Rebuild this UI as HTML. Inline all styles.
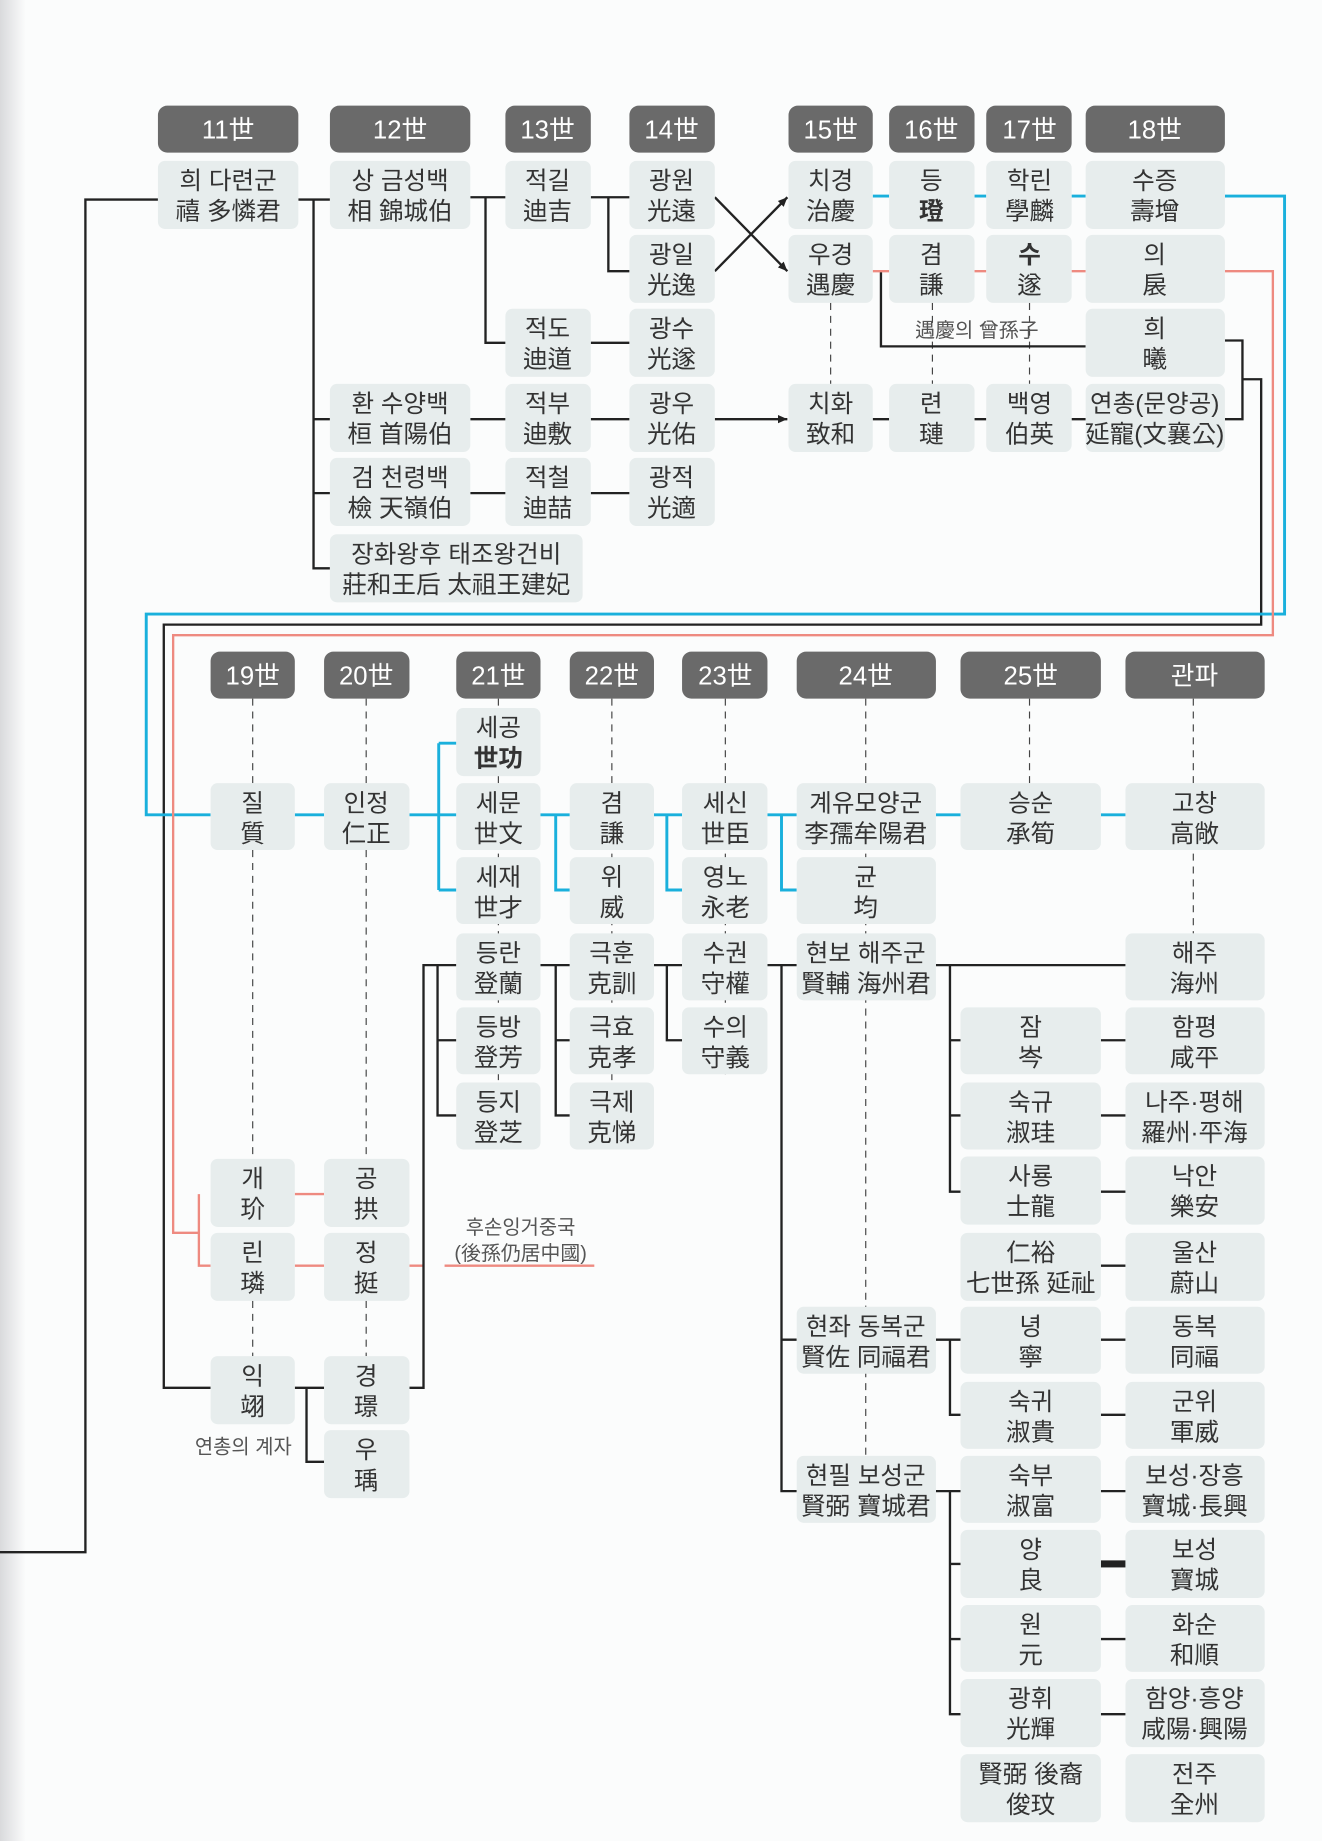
<!DOCTYPE html>
<html><head><meta charset="utf-8"><style>
html,body{margin:0;padding:0;background:#fbfcfc;}
svg{display:block}
.b{fill:#e7eded}
.h{fill:#6a6a6a}
text{font-family:"Liberation Sans","Noto Sans CJK KR","Noto Sans CJK TC",sans-serif;font-size:21px;fill:#333;text-anchor:middle}
.ht{fill:#fff;font-size:22px}
.k{stroke:#222;stroke-width:2;fill:none}
.c{stroke:#1ab0dc;stroke-width:2.5;fill:none}
.r{stroke:#ee8a80;stroke-width:2;fill:none}
.d{stroke:#444;stroke-width:1;stroke-dasharray:6 5;fill:none}
.s{font-size:17px;fill:#555}
</style></head><body>
<svg width="1322" height="1841" viewBox="0 0 1130 1568" preserveAspectRatio="none">
<defs><linearGradient id="g" x1="0" x2="1"><stop offset="0" stop-color="#d9dadc"/><stop offset="1" stop-color="#fbfcfc"/></linearGradient>
<marker id="a" markerUnits="userSpaceOnUse" markerWidth="8" markerHeight="8" refX="8" refY="4" orient="auto"><path d="M0,0.5 L8,4 L0,7.5 z" fill="#222"/></marker></defs>
<rect x="0" y="0" width="22" height="1568" fill="url(#g)"/>

<g class="d">
<path d="M710 258V327M797 258V327M880 258V327"/>
</g>

<path class="k" d="M0 1322H73V170H135M255 170H282M268 170V484H282M268 357H282M268 420H282M402 168H432M415 168V292H432M505 168H538M520 168V231H538M505 292H538M402 357H432M505 357H538M402 420H432M505 420H538"/>
<path class="k" d="M611 357H673" marker-end="url(#a)" stroke-width="1.5"/>
<path class="k" d="M611 168L673 231" marker-end="url(#a)" stroke-width="1.2"/>
<path class="k" d="M611 231L673 168" marker-end="url(#a)" stroke-width="1.2"/>
<path class="k" d="M753 231V295H928" stroke-width="1.5"/>
<path class="k" d="M746 357H760M833 357H843M916 357H928" stroke-width="1.5"/>
<path class="k" d="M1047 290H1062V357H1047M1062 323H1078V532H140V1182H180"/>
<path class="c" d="M746 167H760M833 167H843M916 167H928M1047 167H1098V523H125V694H180"/>
<path class="r" d="M746 231H760M833 231H843M916 231H928M1047 231H1088V541H148V1050H170M170 1017V1078H180"/>

<g>
<rect class="h" x="135" y="90" width="120" height="40" rx="8"/><text class="ht" x="195" y="118">11世</text>
<rect class="h" x="282" y="90" width="120" height="40" rx="8"/><text class="ht" x="342" y="118">12世</text>
<rect class="h" x="432" y="90" width="73" height="40" rx="8"/><text class="ht" x="468" y="118">13世</text>
<rect class="h" x="538" y="90" width="73" height="40" rx="8"/><text class="ht" x="574" y="118">14世</text>
<rect class="h" x="674" y="90" width="72" height="40" rx="8"/><text class="ht" x="710" y="118">15世</text>
<rect class="h" x="760" y="90" width="73" height="40" rx="8"/><text class="ht" x="796" y="118">16世</text>
<rect class="h" x="843" y="90" width="73" height="40" rx="8"/><text class="ht" x="880" y="118">17世</text>
<rect class="h" x="928" y="90" width="119" height="40" rx="8"/><text class="ht" x="987" y="118">18世</text>
</g>

<g>
<rect class="b" x="135" y="137" width="120" height="58" rx="6"/><text x="195" y="161">희 다련군</text><text x="195" y="187">禧 多憐君</text>
<rect class="b" x="282" y="137" width="120" height="58" rx="6"/><text x="342" y="161">상 금성백</text><text x="342" y="187">相 錦城伯</text>
<rect class="b" x="432" y="137" width="73" height="58" rx="6"/><text x="468" y="161">적길</text><text x="468" y="187">迪吉</text>
<rect class="b" x="538" y="137" width="73" height="58" rx="6"/><text x="574" y="161">광원</text><text x="574" y="187">光遠</text>
<rect class="b" x="674" y="137" width="72" height="58" rx="6"/><text x="710" y="161">치경</text><text x="710" y="187">治慶</text>
<rect class="b" x="760" y="137" width="73" height="58" rx="6"/><text x="796" y="161">등</text><text x="796" y="187" font-weight="bold">璒</text>
<rect class="b" x="843" y="137" width="73" height="58" rx="6"/><text x="880" y="161">학린</text><text x="880" y="187">學麟</text>
<rect class="b" x="928" y="137" width="119" height="58" rx="6"/><text x="987" y="161">수증</text><text x="987" y="187">壽增</text>

<rect class="b" x="538" y="200" width="73" height="58" rx="6"/><text x="574" y="224">광일</text><text x="574" y="250">光逸</text>
<rect class="b" x="674" y="200" width="72" height="58" rx="6"/><text x="710" y="224">우경</text><text x="710" y="250">遇慶</text>
<rect class="b" x="760" y="200" width="73" height="58" rx="6"/><text x="796" y="224">겸</text><text x="796" y="250">謙</text>
<rect class="b" x="843" y="200" width="73" height="58" rx="6"/><text x="880" y="224" font-weight="bold">수</text><text x="880" y="250">遂</text>
<rect class="b" x="928" y="200" width="119" height="58" rx="6"/><text x="987" y="224">의</text><text x="987" y="250">扆</text>

<rect class="b" x="432" y="263" width="73" height="58" rx="6"/><text x="468" y="287">적도</text><text x="468" y="313">迪道</text>
<rect class="b" x="538" y="263" width="73" height="58" rx="6"/><text x="574" y="287">광수</text><text x="574" y="313">光遂</text>
<rect class="b" x="928" y="263" width="119" height="58" rx="6"/><text x="987" y="287">희</text><text x="987" y="313">曦</text>
<text class="s" x="835" y="287">遇慶의 曾孫子</text>

<rect class="b" x="282" y="327" width="120" height="58" rx="6"/><text x="342" y="351">환 수양백</text><text x="342" y="377">桓 首陽伯</text>
<rect class="b" x="432" y="327" width="73" height="58" rx="6"/><text x="468" y="351">적부</text><text x="468" y="377">迪敷</text>
<rect class="b" x="538" y="327" width="73" height="58" rx="6"/><text x="574" y="351">광우</text><text x="574" y="377">光佑</text>
<rect class="b" x="674" y="327" width="72" height="58" rx="6"/><text x="710" y="351">치화</text><text x="710" y="377">致和</text>
<rect class="b" x="760" y="327" width="73" height="58" rx="6"/><text x="796" y="351">련</text><text x="796" y="377">璉</text>
<rect class="b" x="843" y="327" width="73" height="58" rx="6"/><text x="880" y="351">백영</text><text x="880" y="377">伯英</text>
<rect class="b" x="928" y="327" width="119" height="58" rx="6"/><text x="987" y="351">연총(문양공)</text><text x="987" y="377">延寵(文襄公)</text>

<rect class="b" x="282" y="390" width="120" height="58" rx="6"/><text x="342" y="414">검 천령백</text><text x="342" y="440">檢 天嶺伯</text>
<rect class="b" x="432" y="390" width="73" height="58" rx="6"/><text x="468" y="414">적철</text><text x="468" y="440">迪喆</text>
<rect class="b" x="538" y="390" width="73" height="58" rx="6"/><text x="574" y="414">광적</text><text x="574" y="440">光適</text>

<rect class="b" x="282" y="455" width="216" height="58" rx="6"/><text x="390" y="479">장화왕후 태조왕건비</text><text x="390" y="505">莊和王后 太祖王建妃</text>
</g>

<path class="d" d="M216 595V667M216 724V987M216 1108V1155M313 595V667M313 724V987M313 1108V1155M426 595V980M523 595V980M620 595V915M740 595V1240M880 595V667M1020 595V795"/>

<path class="c" d="M252 694H277M350 694H375M375 633V758M375 633H390M375 694H390M375 758H390M462 694H487M475 694V758H487M559 694H583M570 694V758H583M656 694H681M668 694V758H681M800 694H821M941 694H962"/>
<path class="r" d="M252 1017H277M252 1078H277M350 1078H362M380 1078H508"/>
<path class="k" d="M252 1182H262M262 1182V1245H277M262 1182H277M350 1182H362V822H390M374 822V950H390M374 886H390M462 822H487M475 822V950H487M475 886H487M559 822H583M570 822V886H583M656 822H681M668 822V1270H681M668 1141H681M800 822H962M812 822V1015H821M812 886H821M812 950H821M800 1141H821M812 1141V1205H821M800 1270H821M812 1270V1460H821M812 1332H821M812 1396H821"/>
<path class="k" d="M941 886H962M941 950H962M941 1015H962M941 1078H962M941 1141H962M941 1205H962M941 1270H962M941 1396H962M941 1460H962"/>
<rect x="941" y="1329" width="21" height="6" fill="#222"/>

<g>
<rect class="h" x="180" y="555" width="72" height="40" rx="8"/><text class="ht" x="216" y="583">19世</text>
<rect class="h" x="277" y="555" width="73" height="40" rx="8"/><text class="ht" x="313" y="583">20世</text>
<rect class="h" x="390" y="555" width="72" height="40" rx="8"/><text class="ht" x="426" y="583">21世</text>
<rect class="h" x="487" y="555" width="72" height="40" rx="8"/><text class="ht" x="523" y="583">22世</text>
<rect class="h" x="583" y="555" width="73" height="40" rx="8"/><text class="ht" x="620" y="583">23世</text>
<rect class="h" x="681" y="555" width="119" height="40" rx="8"/><text class="ht" x="740" y="583">24世</text>
<rect class="h" x="821" y="555" width="120" height="40" rx="8"/><text class="ht" x="881" y="583">25世</text>
<rect class="h" x="962" y="555" width="119" height="40" rx="8"/><text class="ht" x="1021" y="583">관파</text>
</g>

<g>
<rect class="b" x="390" y="603" width="72" height="58" rx="6"/><text x="426" y="627">세공</text><text x="426" y="653" font-weight="bold">世功</text>
<rect class="b" x="390" y="667" width="72" height="57" rx="6"/><text x="426" y="691">세문</text><text x="426" y="717">世文</text>
<rect class="b" x="390" y="730" width="72" height="57" rx="6"/><text x="426" y="754">세재</text><text x="426" y="780">世才</text>
<rect class="b" x="390" y="795" width="72" height="57" rx="6"/><text x="426" y="819">등란</text><text x="426" y="845">登蘭</text>
<rect class="b" x="390" y="858" width="72" height="57" rx="6"/><text x="426" y="882">등방</text><text x="426" y="908">登芳</text>
<rect class="b" x="390" y="922" width="72" height="57" rx="6"/><text x="426" y="946">등지</text><text x="426" y="972">登芝</text>

<rect class="b" x="180" y="667" width="72" height="57" rx="6"/><text x="216" y="691">질</text><text x="216" y="717">質</text>
<rect class="b" x="180" y="987" width="72" height="58" rx="6"/><text x="216" y="1011">개</text><text x="216" y="1037">玠</text>
<rect class="b" x="180" y="1050" width="72" height="58" rx="6"/><text x="216" y="1074">린</text><text x="216" y="1100">璘</text>
<rect class="b" x="180" y="1155" width="72" height="58" rx="6"/><text x="216" y="1179">익</text><text x="216" y="1205">翊</text>
<text class="s" x="208" y="1238">연총의 계자</text>

<rect class="b" x="277" y="667" width="73" height="57" rx="6"/><text x="313" y="691">인정</text><text x="313" y="717">仁正</text>
<rect class="b" x="277" y="987" width="73" height="58" rx="6"/><text x="313" y="1011">공</text><text x="313" y="1037">拱</text>
<rect class="b" x="277" y="1050" width="73" height="58" rx="6"/><text x="313" y="1074">정</text><text x="313" y="1100">挺</text>
<rect class="b" x="277" y="1155" width="73" height="58" rx="6"/><text x="313" y="1179">경</text><text x="313" y="1205">璟</text>
<rect class="b" x="277" y="1218" width="73" height="58" rx="6"/><text x="313" y="1242">우</text><text x="313" y="1268">瑀</text>
<text class="s" x="445" y="1051">후손잉거중국</text><text class="s" x="445" y="1073">(後孫仍居中國)</text>

<rect class="b" x="487" y="667" width="72" height="57" rx="6"/><text x="523" y="691">겸</text><text x="523" y="717">謙</text>
<rect class="b" x="487" y="730" width="72" height="57" rx="6"/><text x="523" y="754">위</text><text x="523" y="780">威</text>
<rect class="b" x="487" y="795" width="72" height="57" rx="6"/><text x="523" y="819">극훈</text><text x="523" y="845">克訓</text>
<rect class="b" x="487" y="858" width="72" height="57" rx="6"/><text x="523" y="882">극효</text><text x="523" y="908">克孝</text>
<rect class="b" x="487" y="922" width="72" height="57" rx="6"/><text x="523" y="946">극제</text><text x="523" y="972">克悌</text>

<rect class="b" x="583" y="667" width="73" height="57" rx="6"/><text x="620" y="691">세신</text><text x="620" y="717">世臣</text>
<rect class="b" x="583" y="730" width="73" height="57" rx="6"/><text x="620" y="754">영노</text><text x="620" y="780">永老</text>
<rect class="b" x="583" y="795" width="73" height="57" rx="6"/><text x="620" y="819">수권</text><text x="620" y="845">守權</text>
<rect class="b" x="583" y="858" width="73" height="57" rx="6"/><text x="620" y="882">수의</text><text x="620" y="908">守義</text>

<rect class="b" x="681" y="667" width="119" height="57" rx="6"/><text x="740" y="691">계유모양군</text><text x="740" y="717">李孺牟陽君</text>
<rect class="b" x="681" y="730" width="119" height="57" rx="6"/><text x="740" y="754">균</text><text x="740" y="780">均</text>
<rect class="b" x="681" y="795" width="119" height="57" rx="6"/><text x="740" y="819">현보 해주군</text><text x="740" y="845">賢輔 海州君</text>
<rect class="b" x="681" y="1113" width="119" height="57" rx="6"/><text x="740" y="1137">현좌 동복군</text><text x="740" y="1163">賢佐 同福君</text>
<rect class="b" x="681" y="1240" width="119" height="57" rx="6"/><text x="740" y="1264">현필 보성군</text><text x="740" y="1290">賢弼 寶城君</text>

<rect class="b" x="821" y="667" width="120" height="57" rx="6"/><text x="881" y="691">승순</text><text x="881" y="717">承筍</text>
<rect class="b" x="821" y="858" width="120" height="57" rx="6"/><text x="881" y="882">잠</text><text x="881" y="908">岑</text>
<rect class="b" x="821" y="922" width="120" height="57" rx="6"/><text x="881" y="946">숙규</text><text x="881" y="972">淑珪</text>
<rect class="b" x="821" y="985" width="120" height="58" rx="6"/><text x="881" y="1009">사룡</text><text x="881" y="1035">士龍</text>
<rect class="b" x="821" y="1050" width="120" height="58" rx="6"/><text x="881" y="1074">仁裕</text><text x="881" y="1100">七世孫 延祉</text>
<rect class="b" x="821" y="1113" width="120" height="57" rx="6"/><text x="881" y="1137">녕</text><text x="881" y="1163">寧</text>
<rect class="b" x="821" y="1177" width="120" height="57" rx="6"/><text x="881" y="1201">숙귀</text><text x="881" y="1227">淑貴</text>
<rect class="b" x="821" y="1240" width="120" height="57" rx="6"/><text x="881" y="1264">숙부</text><text x="881" y="1290">淑富</text>
<rect class="b" x="821" y="1303" width="120" height="58" rx="6"/><text x="881" y="1327">양</text><text x="881" y="1353">良</text>
<rect class="b" x="821" y="1367" width="120" height="57" rx="6"/><text x="881" y="1391">원</text><text x="881" y="1417">元</text>
<rect class="b" x="821" y="1430" width="120" height="58" rx="6"/><text x="881" y="1454">광휘</text><text x="881" y="1480">光輝</text>
<rect class="b" x="821" y="1494" width="120" height="58" rx="6"/><text x="881" y="1518">賢弼 後裔</text><text x="881" y="1544">俊玟</text>

<rect class="b" x="962" y="667" width="119" height="57" rx="6"/><text x="1021" y="691">고창</text><text x="1021" y="717">高敞</text>
<rect class="b" x="962" y="795" width="119" height="57" rx="6"/><text x="1021" y="819">해주</text><text x="1021" y="845">海州</text>
<rect class="b" x="962" y="858" width="119" height="57" rx="6"/><text x="1021" y="882">함평</text><text x="1021" y="908">咸平</text>
<rect class="b" x="962" y="922" width="119" height="57" rx="6"/><text x="1021" y="946">나주·평해</text><text x="1021" y="972">羅州·平海</text>
<rect class="b" x="962" y="985" width="119" height="58" rx="6"/><text x="1021" y="1009">낙안</text><text x="1021" y="1035">樂安</text>
<rect class="b" x="962" y="1050" width="119" height="58" rx="6"/><text x="1021" y="1074">울산</text><text x="1021" y="1100">蔚山</text>
<rect class="b" x="962" y="1113" width="119" height="57" rx="6"/><text x="1021" y="1137">동복</text><text x="1021" y="1163">同福</text>
<rect class="b" x="962" y="1177" width="119" height="57" rx="6"/><text x="1021" y="1201">군위</text><text x="1021" y="1227">軍威</text>
<rect class="b" x="962" y="1240" width="119" height="57" rx="6"/><text x="1021" y="1264">보성·장흥</text><text x="1021" y="1290">寶城·長興</text>
<rect class="b" x="962" y="1303" width="119" height="58" rx="6"/><text x="1021" y="1327">보성</text><text x="1021" y="1353">寶城</text>
<rect class="b" x="962" y="1367" width="119" height="57" rx="6"/><text x="1021" y="1391">화순</text><text x="1021" y="1417">和順</text>
<rect class="b" x="962" y="1430" width="119" height="58" rx="6"/><text x="1021" y="1454">함양·흥양</text><text x="1021" y="1480">咸陽·興陽</text>
<rect class="b" x="962" y="1494" width="119" height="58" rx="6"/><text x="1021" y="1518">전주</text><text x="1021" y="1544">全州</text>
</g>
</svg>
</body></html>
